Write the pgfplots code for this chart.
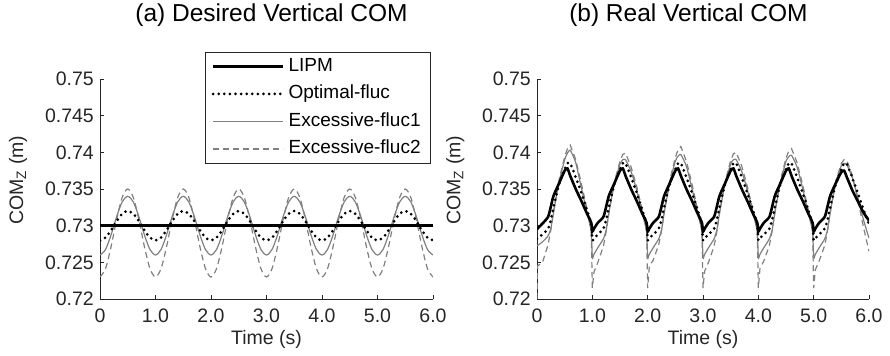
\documentclass[border=0pt]{standalone}
\usepackage{pgfplots}
\pgfplotsset{compat=1.18}
\usepackage{pgfplotstable}
\usepackage{fontspec}
\setmainfont{Liberation Sans}
\definecolor{axgray}{RGB}{38,38,38}
\definecolor{lgray}{RGB}{128,128,128}

\pgfplotstableread{
t opt ex1 ex2
0.0 0.72800 0.72600 0.72300
0.1 0.72838 0.72676 0.72415
0.2 0.72938 0.72876 0.72715
0.3 0.73062 0.73124 0.73085
0.4 0.73162 0.73324 0.73385
0.5 0.73200 0.73400 0.73500
0.6 0.73162 0.73324 0.73385
0.7 0.73062 0.73124 0.73085
0.8 0.72938 0.72876 0.72715
0.9 0.72838 0.72676 0.72415
1.0 0.72800 0.72600 0.72300
1.1 0.72838 0.72676 0.72415
1.2 0.72938 0.72876 0.72715
1.3 0.73062 0.73124 0.73085
1.4 0.73162 0.73324 0.73385
1.5 0.73200 0.73400 0.73500
1.6 0.73162 0.73324 0.73385
1.7 0.73062 0.73124 0.73085
1.8 0.72938 0.72876 0.72715
1.9 0.72838 0.72676 0.72415
2.0 0.72800 0.72600 0.72300
2.1 0.72838 0.72676 0.72415
2.2 0.72938 0.72876 0.72715
2.3 0.73062 0.73124 0.73085
2.4 0.73162 0.73324 0.73385
2.5 0.73200 0.73400 0.73500
2.6 0.73162 0.73324 0.73385
2.7 0.73062 0.73124 0.73085
2.8 0.72938 0.72876 0.72715
2.9 0.72838 0.72676 0.72415
3.0 0.72800 0.72600 0.72300
3.1 0.72838 0.72676 0.72415
3.2 0.72938 0.72876 0.72715
3.3 0.73062 0.73124 0.73085
3.4 0.73162 0.73324 0.73385
3.5 0.73200 0.73400 0.73500
3.6 0.73162 0.73324 0.73385
3.7 0.73062 0.73124 0.73085
3.8 0.72938 0.72876 0.72715
3.9 0.72838 0.72676 0.72415
4.0 0.72800 0.72600 0.72300
4.1 0.72838 0.72676 0.72415
4.2 0.72938 0.72876 0.72715
4.3 0.73062 0.73124 0.73085
4.4 0.73162 0.73324 0.73385
4.5 0.73200 0.73400 0.73500
4.6 0.73162 0.73324 0.73385
4.7 0.73062 0.73124 0.73085
4.8 0.72938 0.72876 0.72715
4.9 0.72838 0.72676 0.72415
5.0 0.72800 0.72600 0.72300
5.1 0.72838 0.72676 0.72415
5.2 0.72938 0.72876 0.72715
5.3 0.73062 0.73124 0.73085
5.4 0.73162 0.73324 0.73385
5.5 0.73200 0.73400 0.73500
5.6 0.73162 0.73324 0.73385
5.7 0.73062 0.73124 0.73085
5.8 0.72938 0.72876 0.72715
5.9 0.72838 0.72676 0.72415
6.0 0.72800 0.72600 0.72300
}\desired

\pgfplotstableread{
t lipm opt ex1 ex2
0.00 0.7295 0.7282 0.7273 0.7200
0.01 0.7296 0.7283 0.7273 0.7245
0.10 0.7303 0.7288 0.7278 0.7250
0.20 0.7312 0.7296 0.7286 0.7274
0.25 0.7326 0.7308 0.7296 0.7294
0.30 0.7341 0.7326 0.7318 0.7320
0.40 0.7358 0.7357 0.7360 0.7363
0.50 0.7375 0.7377 0.7390 0.7394
0.55 0.7378 0.7385 0.7399 0.7405
0.60 0.7368 0.7385 0.7403 0.7410
0.70 0.7350 0.7366 0.7386 0.7390
0.80 0.7334 0.7345 0.7352 0.7358
0.90 0.7317 0.7322 0.7319 0.7324
0.98 0.7304 0.7302 0.7292 0.7295
1.00 0.7292 0.7280 0.7256 0.7215
1.03 0.7296 0.7283 0.7261 0.7237
1.10 0.7304 0.7288 0.7270 0.7250
1.20 0.7312 0.7296 0.7282 0.7272
1.25 0.7326 0.7308 0.7294 0.7292
1.30 0.7341 0.7326 0.7318 0.7318
1.40 0.7358 0.7357 0.7358 0.7360
1.50 0.7375 0.7377 0.7384 0.7388
1.55 0.7378 0.7385 0.7390 0.7397
1.60 0.7368 0.7385 0.7390 0.7399
1.70 0.7350 0.7366 0.7374 0.7380
1.80 0.7334 0.7345 0.7349 0.7354
1.90 0.7317 0.7322 0.7318 0.7322
1.98 0.7304 0.7302 0.7292 0.7295
2.00 0.7292 0.7280 0.7256 0.7215
2.03 0.7296 0.7283 0.7261 0.7245
2.10 0.7304 0.7288 0.7270 0.7253
2.20 0.7312 0.7296 0.7282 0.7274
2.25 0.7326 0.7308 0.7294 0.7293
2.30 0.7341 0.7326 0.7318 0.7319
2.40 0.7358 0.7357 0.7359 0.7362
2.50 0.7375 0.7377 0.7388 0.7393
2.55 0.7378 0.7385 0.7395 0.7404
2.60 0.7368 0.7385 0.7397 0.7408
2.70 0.7350 0.7366 0.7381 0.7388
2.80 0.7334 0.7345 0.7351 0.7357
2.90 0.7317 0.7322 0.7318 0.7323
2.98 0.7304 0.7302 0.7292 0.7295
3.00 0.7292 0.7280 0.7256 0.7215
3.03 0.7296 0.7283 0.7261 0.7238
3.10 0.7304 0.7288 0.7270 0.7250
3.20 0.7312 0.7296 0.7282 0.7272
3.25 0.7326 0.7308 0.7294 0.7292
3.30 0.7341 0.7326 0.7318 0.7318
3.40 0.7358 0.7357 0.7358 0.7360
3.50 0.7375 0.7377 0.7384 0.7389
3.55 0.7378 0.7385 0.7390 0.7398
3.60 0.7368 0.7385 0.7390 0.7400
3.70 0.7350 0.7366 0.7374 0.7381
3.80 0.7334 0.7345 0.7349 0.7354
3.90 0.7317 0.7322 0.7318 0.7322
3.98 0.7304 0.7302 0.7292 0.7295
4.00 0.7292 0.7280 0.7256 0.7215
4.03 0.7296 0.7283 0.7261 0.7242
4.10 0.7304 0.7288 0.7270 0.7252
4.20 0.7312 0.7296 0.7282 0.7273
4.25 0.7326 0.7308 0.7294 0.7293
4.30 0.7341 0.7326 0.7318 0.7319
4.40 0.7358 0.7357 0.7359 0.7362
4.50 0.7375 0.7377 0.7388 0.7392
4.55 0.7378 0.7385 0.7394 0.7402
4.60 0.7368 0.7385 0.7396 0.7405
4.70 0.7350 0.7366 0.7380 0.7386
4.80 0.7334 0.7345 0.7351 0.7356
4.90 0.7317 0.7322 0.7318 0.7323
4.98 0.7304 0.7302 0.7292 0.7295
5.00 0.7292 0.7280 0.7256 0.7215
5.03 0.7296 0.7283 0.7261 0.7240
5.10 0.7304 0.7288 0.7270 0.7252
5.20 0.7312 0.7296 0.7282 0.7273
5.25 0.7326 0.7308 0.7294 0.7293
5.30 0.7341 0.7326 0.7318 0.7319
5.40 0.7358 0.7357 0.7358 0.7361
5.50 0.7373 0.7377 0.7382 0.7385
5.55 0.7375 0.7385 0.7385 0.7390
5.60 0.7366 0.7384 0.7383 0.7389
5.70 0.7348 0.7365 0.7365 0.7368
5.80 0.7333 0.7344 0.7338 0.7335
5.90 0.7318 0.7322 0.7308 0.7298
6.00 0.7307 0.7302 0.7283 0.7265
}\real

\pgfplotsset{
  comstyle/.style={
    scale only axis, width=333bp, height=220bp,
    xmin=0, xmax=6, ymin=0.72, ymax=0.75,
    axis x line*=bottom, axis y line*=left,
    axis line style={axgray, line width=0.8bp, -},
    xtick={0,1,2,3,4,5,6}, xticklabels={0,1.0,2.0,3.0,4.0,5.0,6.0},
    ytick={0.72,0.725,0.73,0.735,0.74,0.745,0.75},
    yticklabels={0.72,0.725,0.73,0.735,0.74,0.745,0.75},
    tick align=inside, major tick length=4bp,
    tick style={axgray, line width=0.8bp},
    /pgf/number format/assume math mode=true,
    ticklabel style={font=\fontsize{19.5bp}{23bp}\selectfont, text=axgray},
    xticklabel style={anchor=base, inner sep=0pt, yshift=-23bp},
    yticklabel style={anchor=east, inner sep=0pt, xshift=-6bp},
    xlabel={Time (s)},
    ylabel={COM\textsubscript{Z} (m)},
    label style={font=\fontsize{19.5bp}{23bp}\selectfont, text=axgray},
    xlabel style={at={(axis description cs:0.5,0)}, anchor=base, yshift=-45bp},
    ylabel style={at={(axis description cs:-0.246,0.54)}, anchor=center},
    title style={anchor=base, font=\fontsize{24.5bp}{28bp}\selectfont},
  }
}

\begin{document}
\begin{tikzpicture}
\path[use as bounding box] (0,0) rectangle (890bp,356bp);
\begin{axis}[comstyle, at={(100bp,57bp)}, anchor=south west,
  title={(a) Desired Vertical COM},
  title style={at={(axis description cs:0.515,1)}, yshift=52bp},
  reverse legend,
  legend cell align=left,
  legend style={at={(axis description cs:0.994,1.1227)}, anchor=north east,
    draw=axgray, line width=0.8bp, fill=white,
    font=\fontsize{19bp}{22bp}\selectfont,
    inner xsep=6bp, inner ysep=5bp, row sep=9.5bp,
    nodes={inner xsep=4bp, inner ysep=0bp, text height=14bp, text depth=4bp}},
  legend image code/.code={\draw[#1] (-2bp,0bp) -- (68bp,0bp);},
]
\addplot[lgray, line width=1.2bp, dash pattern=on 6bp off 4bp, smooth] table[x=t, y=ex2] {\desired};
\addlegendentry{Excessive-fluc2}
\addplot[lgray, line width=1.2bp, smooth] table[x=t, y=ex1] {\desired};
\addlegendentry{Excessive-fluc1}
\addplot[black, line width=3bp, dash pattern=on 0bp off 5.6bp, line cap=round, smooth] table[x=t, y=opt] {\desired};
\addlegendentry{Optimal-fluc}
\addplot[black, line width=2.6bp] coordinates {(0,0.73) (6,0.73)};
\addlegendentry{LIPM}
\end{axis}

\begin{axis}[comstyle, at={(537bp,57bp)}, anchor=south west, width=332bp,
  title={(b) Real Vertical COM},
  title style={at={(axis description cs:0.456,1)}, yshift=52bp},
]
\addplot[lgray, line width=1.2bp, dash pattern=on 6bp off 4bp] table[x=t, y=ex2] {\real};
\addplot[lgray, line width=1.2bp, smooth, tension=0.3] table[x=t, y=ex1] {\real};
\addplot[black, line width=3bp, dash pattern=on 0bp off 5.6bp, line cap=round, smooth, tension=0.4] table[x=t, y=opt] {\real};
\addplot[black, line width=2.6bp, smooth, tension=0.4] table[x=t, y=lipm] {\real};
\end{axis}
\end{tikzpicture}
\end{document}
